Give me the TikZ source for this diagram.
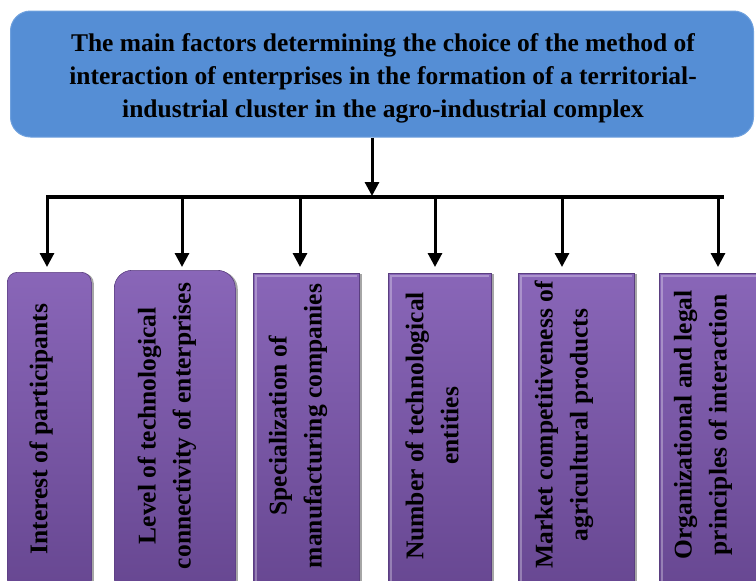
\documentclass[tikz,border=0pt]{standalone}
\usepackage{fontspec}
\setmainfont{Liberation Serif}[BoldFont={Liberation Serif Bold}]
\usetikzlibrary{arrows.meta,shadows}
\definecolor{headfill}{HTML}{558ED5}
\definecolor{headedge}{HTML}{6FA1DE}
\definecolor{violettop}{HTML}{8966B8}
\definecolor{violetbot}{HTML}{664690}
\definecolor{violetedge}{HTML}{5A3E80}

\begin{document}
\begin{tikzpicture}[x=1pt,y=-1pt,
  headbox/.style={draw=headedge, line width=1pt, fill=headfill,
    rounded corners=20pt, minimum width=743pt, minimum height=126pt,
    inner sep=0pt, align=center,
    font=\bfseries\fontsize{25.5}{33}\selectfont},
  factorbox/.style={draw=violetedge, line width=0.6pt,
    top color=violettop, bottom color=violetbot, inner sep=0pt,
    anchor=north west, minimum height=330pt,
    drop shadow={shadow xshift=2.5pt, shadow yshift=-1pt, opacity=0.35, fill=black}},
  factortext/.style={rotate=90, align=center, inner sep=0pt,
    font=\bfseries\fontsize{25.5}{35}\selectfont},
  tip/.style={-{Triangle[width=14pt,length=14pt]}},
  stem/.style={line width=3pt, tip},
  busbar/.style={line width=4.5pt},
  branch/.style={line width=3pt, tip},
  bevel/.style={white, opacity=0.3, line width=2pt},
]
\useasboundingbox (0,0) rectangle (756,581);
\clip (0,0) rectangle (756,581);

% heading
\node[headbox] (main) at (382,74) {};
\node[align=center, inner sep=0pt, font=\bfseries\fontsize{25.5}{33}\selectfont]
  (title) at (383,78)
  {The main factors determining the choice of the method of\\
   interaction of enterprises in the formation of a territorial-\\
   industrial cluster in the agro-industrial complex};

% factor boxes
\node[factorbox, rounded corners=10pt, minimum width=84pt]  (f1) at (7,272) {};
\node[factorbox, rounded corners=18pt, minimum width=121pt] (f2) at (114,270) {};
\node[factorbox, minimum width=106pt] (f3) at (253,273) {};
\node[factorbox, minimum width=103pt] (f4) at (388,273) {};
\node[factorbox, minimum width=116pt] (f5) at (518,273) {};
\node[factorbox, minimum width=112pt] (f6) at (659,273) {};

% light bevel on the square boxes
\foreach \b in {f3,f4,f5,f6}{
  \draw[bevel] ([xshift=3pt]\b.south west) -- ([xshift=3pt,yshift=-3pt]\b.north west)
    -- ([xshift=-3pt,yshift=-3pt]\b.north east);
}

% factor labels
\node[factortext] (t1) at (41,429)  {Interest of participants};
\node[factortext] (t2) at (167,426) {Level of technological\\connectivity of enterprises};
\node[factortext] (t3) at (298,426) {Specialization of\\manufacturing companies};
\node[factortext] (t4) at (432,426) {Number of technological\\entities};
\node[factortext] (t5) at (564,425) {Market competitiveness of\\agricultural products};
\node[factortext] (t6) at (703,425) {Organizational and legal\\principles of interaction};

% connectors
\coordinate (hub) at (372,196);
\coordinate (busL) at (46,197);
\coordinate (busR) at (724,197);
\coordinate (a1) at (47,267);
\coordinate (a2) at (182,267);
\coordinate (a3) at (300,267);
\coordinate (a4) at (435,267);
\coordinate (a5) at (562,267);
\coordinate (a6) at (718,267);

\draw[stem] (main.south -| hub) -- (hub);
\draw[busbar] (busL) -- (busR);
\foreach \a in {a1,a2,a3,a4,a5,a6}{
  \draw[branch] (\a |- busL) -- (\a);
}
\end{tikzpicture}
\end{document}
